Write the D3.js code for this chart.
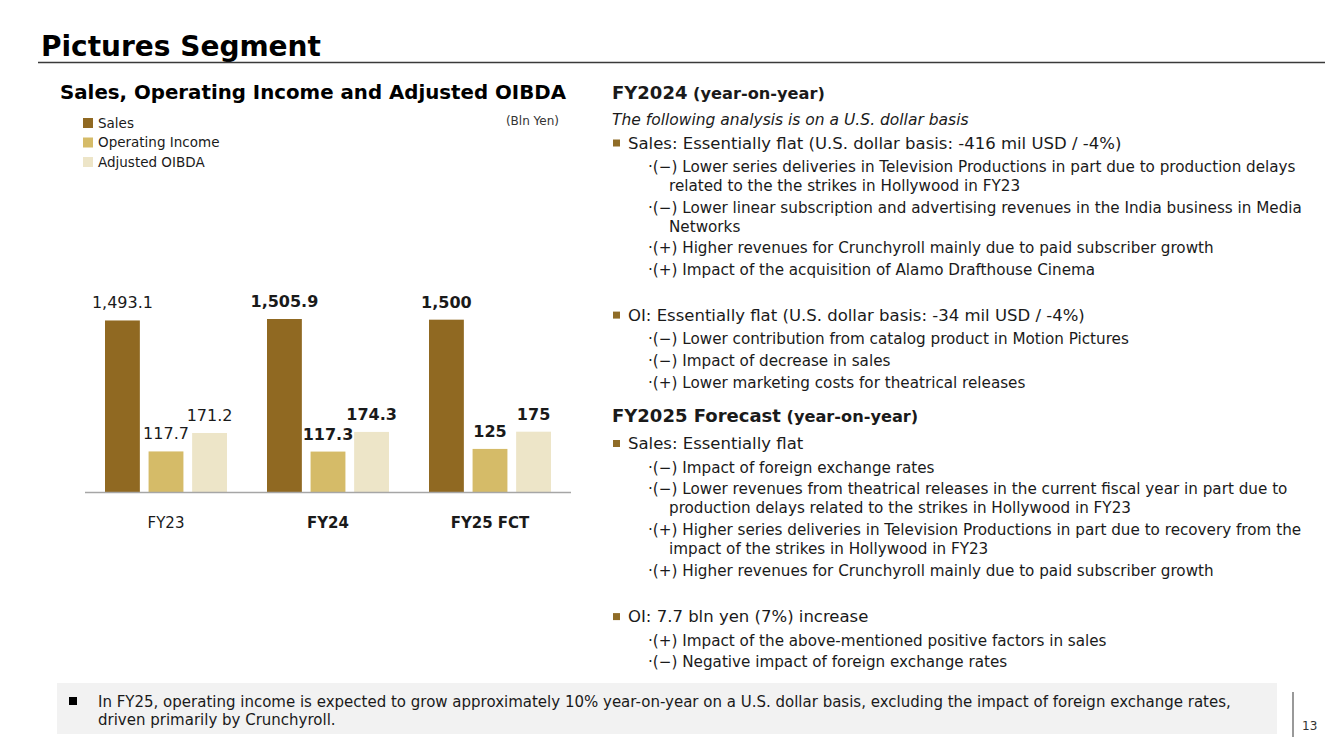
<!DOCTYPE html>
<html>
<head>
<meta charset="utf-8">
<script src="https://cdn.jsdelivr.net/npm/d3@7"></script>
<style>
  body { margin: 0; background: #fff; }
  svg { display: block; font-family: "DejaVu Sans", Verdana, sans-serif; }
</style>
</head>
<body>
<svg id="slide" width="1334" height="749"></svg>
<script>
// ---- chart data (Bln Yen) ----
const categories = ["FY23", "FY24", "FY25 FCT"];
const boldCategory = [false, true, true];
const seriesNames = ["Sales", "Operating Income", "Adjusted OIBDA"];
const salesValues = [1493.1, 1505.9, 1500];
const oiValues = [117.7, 117.3, 125];
const oibdaValues = [171.2, 174.3, 175];
const salesLabels = ["1,493.1", "1,505.9", "1,500"];
const oiLabels = ["117.7", "117.3", "125"];
const oibdaLabels = ["171.2", "174.3", "175"];
const seriesColors = ["#906922", "#d5bb68", "#ede5c8"];

// ---- commentary text ----
const fy24Header = ["FY2024", " (year-on-year)"];
const fy24Note = "The following analysis is on a U.S. dollar basis";
const fy24Sales = "Sales: Essentially flat (U.S. dollar basis: -416 mil USD / -4%)";
const fy24SalesItems = [
  ["·(−) Lower series deliveries in Television Productions in part due to production delays", "related to the the strikes in Hollywood in FY23"],
  ["·(−) Lower linear subscription and advertising revenues in the India business in Media", "Networks"],
  ["·(+) Higher revenues for Crunchyroll mainly due to paid subscriber growth"],
  ["·(+) Impact of the acquisition of Alamo Drafthouse Cinema"]
];
const fy24OI = "OI: Essentially flat (U.S. dollar basis: -34 mil USD / -4%)";
const fy24OIItems = [
  ["·(−) Lower contribution from catalog product in Motion Pictures"],
  ["·(−) Impact of decrease in sales"],
  ["·(+) Lower marketing costs for theatrical releases"]
];
const fy25Header = ["FY2025 Forecast", " (year-on-year)"];
const fy25Sales = "Sales: Essentially flat";
const fy25SalesItems = [
  ["·(−) Impact of foreign exchange rates"],
  ["·(−) Lower revenues from theatrical releases in the current fiscal year in part due to", "production delays related to the strikes in Hollywood in FY23"],
  ["·(+) Higher series deliveries in Television Productions in part due to recovery from the", "impact of the strikes in Hollywood in FY23"],
  ["·(+) Higher revenues for Crunchyroll mainly due to paid subscriber growth"]
];
const fy25OI = "OI: 7.7 bln yen (7%) increase";
const fy25OIItems = [
  ["·(+) Impact of the above-mentioned positive factors in sales"],
  ["·(−) Negative impact of foreign exchange rates"]
];
const footNote = [
  "In FY25, operating income is expected to grow approximately 10% year-on-year on a U.S. dollar basis, excluding the impact of foreign exchange rates,",
  "driven primarily by Crunchyroll."
];
const pageNumber = "13";

const svg = d3.select("#slide");
const ink = "#1a1a1a";

// ---- page title ----
svg.append("text")
  .attr("x", 41).attr("y", 56)
  .style("font-size", "28px").style("font-weight", "bold").attr("fill", "#000")
  .text("Pictures Segment");
svg.append("line")
  .attr("x1", 38).attr("x2", 1325).attr("y1", 62.5).attr("y2", 62.5)
  .attr("stroke", "#3a3a3a").attr("stroke-width", 1.5);

// ---- chart ----
svg.append("text")
  .attr("x", 60).attr("y", 99)
  .style("font-size", "19.8px").style("font-weight", "bold").attr("fill", "#000")
  .text("Sales, Operating Income and Adjusted OIBDA");

const legend = svg.append("g").attr("transform", "translate(83,118)");
const legendItem = legend.selectAll("g")
  .data(seriesNames)
  .join("g")
  .attr("transform", (d, i) => `translate(0,${i * 19.5})`);
legendItem.append("rect")
  .attr("width", 10).attr("height", 10)
  .attr("fill", (d, i) => seriesColors[i]);
legendItem.append("text")
  .attr("x", 15).attr("y", 9.8)
  .style("font-size", "13.5px").attr("fill", ink)
  .text(d => d);

svg.append("text")
  .attr("x", 559).attr("y", 125)
  .attr("text-anchor", "end")
  .style("font-size", "12px").attr("fill", "#333")
  .text("(Bln Yen)");

const baseY = 492;
const x = d3.scaleBand().domain(categories).range([85, 571]);
const xSub = d3.scaleBand().domain(seriesNames).range([20, 142]).paddingInner(0.2);
// sales and the two income measures sit on separate value scales
const salesY = d3.scaleLinear().domain([0, 1700]).range([baseY, baseY - 195.3]);
const incomeY = d3.scaleLinear().domain([0, 1700 / 3]).range([baseY, baseY - 195.3]);

const rows = categories.map((c, i) => ({
  cat: c,
  bold: boldCategory[i],
  bars: [
    { key: seriesNames[0], v: salesValues[i], label: salesLabels[i], y: salesY, color: seriesColors[0] },
    { key: seriesNames[1], v: oiValues[i], label: oiLabels[i], y: incomeY, color: seriesColors[1] },
    { key: seriesNames[2], v: oibdaValues[i], label: oibdaLabels[i], y: incomeY, color: seriesColors[2] }
  ]
}));

const group = svg.append("g").selectAll("g")
  .data(rows)
  .join("g")
  .attr("transform", d => `translate(${x(d.cat)},0)`);

group.selectAll("rect")
  .data(d => d.bars)
  .join("rect")
  .attr("x", d => xSub(d.key))
  .attr("width", xSub.bandwidth())
  .attr("y", d => d.y(d.v))
  .attr("height", d => baseY - d.y(d.v))
  .attr("fill", d => d.color);

group.each(function (row) {
  d3.select(this).selectAll("text.val")
    .data(row.bars)
    .join("text")
    .attr("class", "val")
    .attr("x", d => xSub(d.key) + xSub.bandwidth() / 2)
    .attr("y", d => d.y(d.v) - 12)
    .attr("text-anchor", "middle")
    .style("font-size", "16px")
    .style("font-weight", row.bold ? "bold" : "normal")
    .attr("fill", ink)
    .text(d => d.label);
});

svg.append("line")
  .attr("x1", 85).attr("x2", 571).attr("y1", baseY + 0.5).attr("y2", baseY + 0.5)
  .attr("stroke", "#a6a6a6").attr("stroke-width", 1.5);

svg.append("g").selectAll("text")
  .data(rows)
  .join("text")
  .attr("x", d => x(d.cat) + x.bandwidth() / 2)
  .attr("y", 528)
  .attr("text-anchor", "middle")
  .style("font-size", "15px")
  .style("font-weight", d => d.bold ? "bold" : "normal")
  .attr("fill", ink)
  .text(d => d.cat);

// ---- commentary column ----
const lines = [];
function addHeader(parts, dy) { lines.push({ kind: "header", parts, dy }); }
function addBullet(text, dy) { lines.push({ kind: "bullet", text, dy }); }
function addItems(items) {
  items.forEach((item, i) => {
    lines.push({ kind: "sub", text: item[0], dy: i === 0 ? 23.5 : 21.7 });
    item.slice(1).forEach(t => lines.push({ kind: "cont", text: t, dy: 19 }));
  });
}
addHeader(fy24Header, 99);
lines.push({ kind: "italic", text: fy24Note, dy: 25.5 });
addBullet(fy24Sales, 24);
addItems(fy24SalesItems);
addBullet(fy24OI, 45.5);
addItems(fy24OIItems);
addHeader(fy25Header, 34.5);
addBullet(fy25Sales, 27);
addItems(fy25SalesItems);
addBullet(fy25OI, 46.5);
addItems(fy25OIItems);

let cy = 0;
lines.forEach(l => { cy += l.dy; l.y = cy; });

const notes = svg.append("g").attr("fill", ink);
lines.forEach(l => {
  if (l.kind === "header") {
    const t = notes.append("text").attr("x", 612).attr("y", l.y).style("font-weight", "bold");
    t.append("tspan").style("font-size", "18px").text(l.parts[0]);
    t.append("tspan").style("font-size", "16.2px").text(l.parts[1]);
  } else if (l.kind === "italic") {
    notes.append("text").attr("x", 612).attr("y", l.y)
      .style("font-size", "15.5px").style("font-style", "italic").text(l.text);
  } else if (l.kind === "bullet") {
    notes.append("rect").attr("x", 613).attr("y", l.y - 9)
      .attr("width", 7).attr("height", 7).attr("fill", "#8f6c27");
    notes.append("text").attr("x", 628).attr("y", l.y)
      .style("font-size", "16.5px").text(l.text);
  } else {
    notes.append("text").attr("x", l.kind === "sub" ? 648 : 669).attr("y", l.y)
      .style("font-size", "15.2px").text(l.text);
  }
});

// ---- footnote box ----
svg.append("rect")
  .attr("x", 57).attr("y", 683).attr("width", 1220).attr("height", 51)
  .attr("fill", "#f2f2f2");
svg.append("rect")
  .attr("x", 69).attr("y", 697).attr("width", 8).attr("height", 8)
  .attr("fill", "#000");
svg.append("g").selectAll("text")
  .data(footNote)
  .join("text")
  .attr("x", 98)
  .attr("y", (d, i) => 707 + i * 17.5)
  .style("font-size", "15px")
  .attr("fill", ink)
  .text(d => d);

// ---- page number ----
svg.append("line")
  .attr("x1", 1293).attr("x2", 1293).attr("y1", 692).attr("y2", 737)
  .attr("stroke", "#555").attr("stroke-width", 1.2);
svg.append("text")
  .attr("x", 1302).attr("y", 730)
  .style("font-size", "12px").attr("fill", "#333")
  .text(pageNumber);
</script>
</body>
</html>
